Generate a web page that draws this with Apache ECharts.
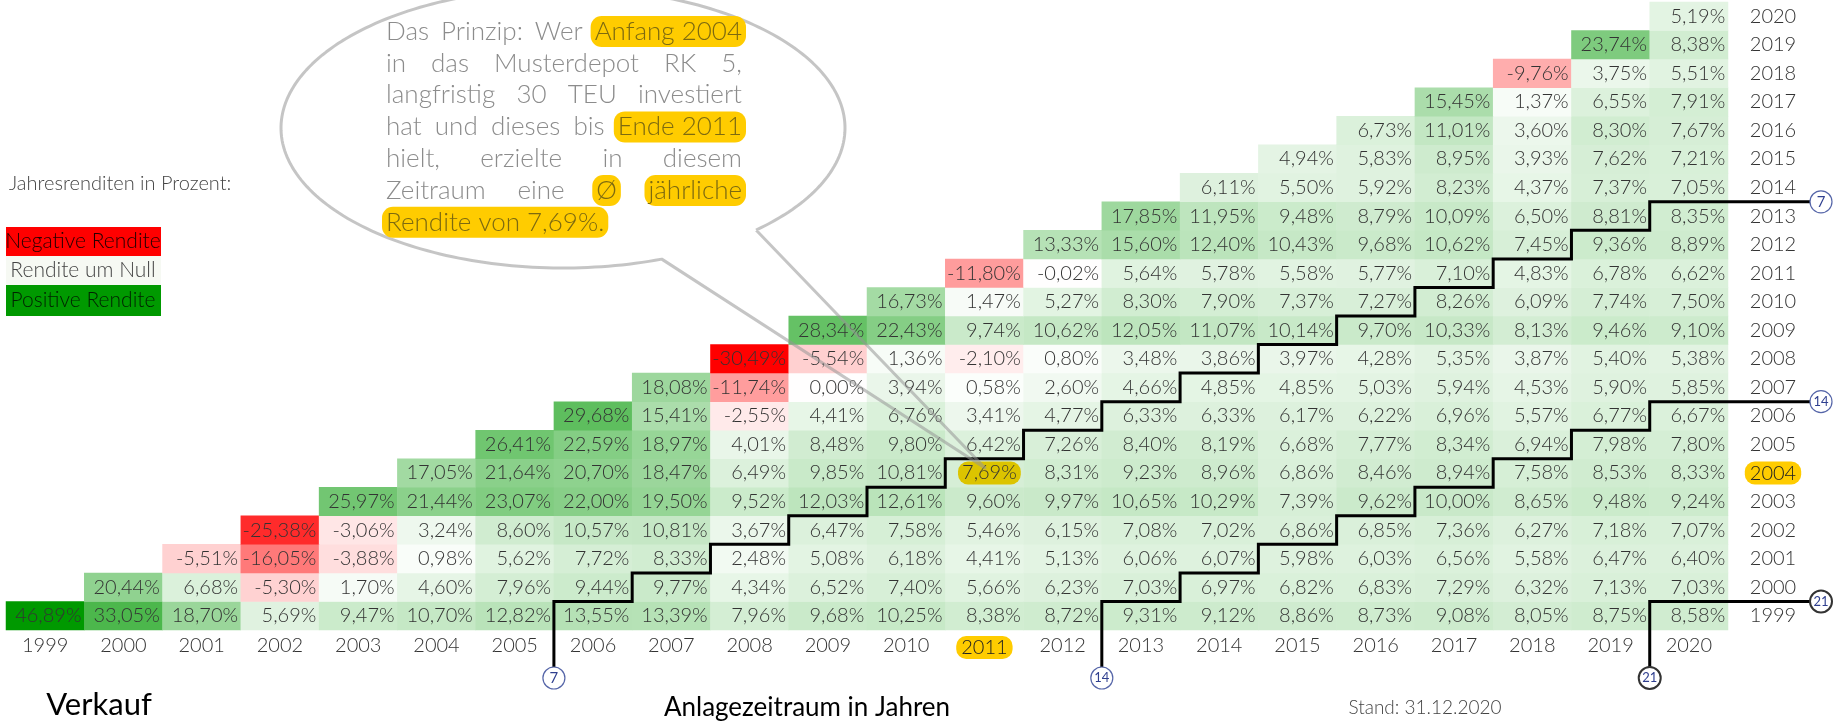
<!DOCTYPE html>
<html><head><meta charset="utf-8">
<script src="https://cdn.jsdelivr.net/npm/echarts@6/dist/echarts.min.js"></script>
<style>html,body{margin:0;padding:0;background:#fff}#c{width:1833px;height:725px}</style>
</head><body><div id="c"></div>
<script>
// ---------- DATA ----------
const years = ['1999','2000','2001','2002','2003','2004','2005','2006','2007','2008','2009','2010','2011','2012','2013','2014','2015','2016','2017','2018','2019','2020'];
// returns by purchase year (row), values for sale years purchase..2020
const ret1999 = [46.89,33.05,18.70,5.69,9.47,10.70,12.82,13.55,13.39,7.96,9.68,10.25,8.38,8.72,9.31,9.12,8.86,8.73,9.08,8.05,8.75,8.58];
const ret2000 = [20.44,6.68,-5.30,1.70,4.60,7.96,9.44,9.77,4.34,6.52,7.40,5.66,6.23,7.03,6.97,6.82,6.83,7.29,6.32,7.13,7.03];
const ret2001 = [-5.51,-16.05,-3.88,0.98,5.62,7.72,8.33,2.48,5.08,6.18,4.41,5.13,6.06,6.07,5.98,6.03,6.56,5.58,6.47,6.40];
const ret2002 = [-25.38,-3.06,3.24,8.60,10.57,10.81,3.67,6.47,7.58,5.46,6.15,7.08,7.02,6.86,6.85,7.36,6.27,7.18,7.07];
const ret2003 = [25.97,21.44,23.07,22.00,19.50,9.52,12.03,12.61,9.60,9.97,10.65,10.29,7.39,9.62,10.00,8.65,9.48,9.24];
const ret2004 = [17.05,21.64,20.70,18.47,6.49,9.85,10.81,7.69,8.31,9.23,8.96,6.86,8.46,8.94,7.58,8.53,8.33];
const ret2005 = [26.41,22.59,18.97,4.01,8.48,9.80,6.42,7.26,8.40,8.19,6.68,7.77,8.34,6.94,7.98,7.80];
const ret2006 = [29.68,15.41,-2.55,4.41,6.76,3.41,4.77,6.33,6.33,6.17,6.22,6.96,5.57,6.77,6.67];
const ret2007 = [18.08,-11.74,0.00,3.94,0.58,2.60,4.66,4.85,4.85,5.03,5.94,4.53,5.90,5.85];
const ret2008 = [-30.49,-5.54,1.36,-2.10,0.80,3.48,3.86,3.97,4.28,5.35,3.87,5.40,5.38];
const ret2009 = [28.34,22.43,9.74,10.62,12.05,11.07,10.14,9.70,10.33,8.13,9.46,9.10];
const ret2010 = [16.73,1.47,5.27,8.30,7.90,7.37,7.27,8.26,6.09,7.74,7.50];
const ret2011 = [-11.80,-0.02,5.64,5.78,5.58,5.77,7.10,4.83,6.78,6.62];
const ret2012 = [13.33,15.60,12.40,10.43,9.68,10.62,7.45,9.36,8.89];
const ret2013 = [17.85,11.95,9.48,8.79,10.09,6.50,8.81,8.35];
const ret2014 = [6.11,5.50,5.92,8.23,4.37,7.37,7.05];
const ret2015 = [4.94,5.83,8.95,3.93,7.62,7.21];
const ret2016 = [6.73,11.01,3.60,8.30,7.67];
const ret2017 = [15.45,1.37,6.55,7.91];
const ret2018 = [-9.76,3.75,5.51];
const ret2019 = [23.74,8.38];
const ret2020 = [5.19];
const holdPeriods = [7, 14, 21];
const highlightBuy = '2004';
const highlightSell = '2011';
const bubbleLines = [
  [['Das',0],['Prinzip:',0],['Wer',0],['Anfang 2004',1]],
  [['in',0],['das',0],['Musterdepot',0],['RK',0],['5,',0]],
  [['langfristig',0],['30',0],['TEU',0],['investiert',0]],
  [['hat',0],['und',0],['dieses',0],['bis',0],['Ende 2011',1]],
  [['hielt,',0],['erzielte',0],['in',0],['diesem',0]],
  [['Zeitraum',0],['eine',0],['Ø',1],['jährliche',1]],
  [['Rendite von 7,69%.',1]]
];
// ---------- BUILD ----------
const rows = [ret1999,ret2000,ret2001,ret2002,ret2003,ret2004,ret2005,ret2006,ret2007,ret2008,ret2009,ret2010,ret2011,ret2012,ret2013,ret2014,ret2015,ret2016,ret2017,ret2018,ret2019,ret2020];
let minRet = Infinity, maxRet = -Infinity;
rows.forEach(r => r.forEach(v => { minRet = Math.min(minRet, v); maxRet = Math.max(maxRet, v); }));
const FONT = 'Lato';
const YEL = '#FFCC00';
const fmt = v => v.toFixed(2).replace('.', ',') + '%';

const data = [];
rows.forEach((row, bi) => row.forEach((v, k) => {
  const si = bi + k;
  const item = { value: [si, bi, v] };
  if (years[bi] === highlightBuy && years[si] === highlightSell) {
    item.label = { backgroundColor: '#DCC400', borderRadius: 10, padding: [2, 4, 1, 4] };
  }
  data.push(item);
}));

function colorAt(v) {
  let c;
  if (v < 0) { const t = Math.min(1, v / minRet); c = [255, 255 - 255 * t, 255 - 255 * t]; }
  else { const t = Math.min(1, v / maxRet); c = [255 - 255 * t, 255 - 102 * t, 255 - 255 * t]; }
  return 'rgb(' + c.map(Math.round).join(',') + ')';
}
const stops = [];
for (let k = 0; k <= 200; k++) stops.push(colorAt(minRet + (maxRet - minRet) * k / 200));

const GL = 6, GT = 2, GW = 1722, GH = 628;

function renderSteps(params, api) {
  const p = api.value(2);
  const c00 = api.coord([0, 0]);
  const w = api.coord([1, 0])[0] - c00[0];
  const h = c00[1] - api.coord([0, 1])[1];
  const L = k => c00[0] - w / 2 + k * w;
  const T = i => c00[1] + h / 2 - (i + 1) * h;
  const bottom = c00[1] + h / 2;
  const rightX = L(22) + 93;
  const botY = bottom + 48;
  const pts = [[L(p), botY]];
  for (let i = 0; i <= 21 - p; i++) {
    pts.push([L(p + i), T(i)]);
    pts.push([i < 21 - p ? L(p + i + 1) : rightX, T(i)]);
  }
  const last = pts[pts.length - 1];
  const bold = p === 21;
  const circ = (x, y) => [
    { type: 'circle', shape: { cx: x, cy: y, r: 11 }, style: { fill: '#fff', stroke: bold ? '#333' : '#5565a8', lineWidth: bold ? 2 : 1.2 } },
    { type: 'text', x: x, y: y, style: { text: String(p), align: 'center', verticalAlign: 'middle', textAlign: 'center', textVerticalAlign: 'middle', fill: '#2f3f8f', fontSize: p > 9 ? 13 : 15, fontFamily: FONT } }
  ];
  return { type: 'group', children: [
    { type: 'polyline', shape: { points: pts }, style: { stroke: '#000', lineWidth: 3, fill: null } },
    ...circ(L(p), botY), ...circ(last[0], last[1])
  ] };
}

// graphics
const gfx = [];
// bubble (ellipse arc + tail to highlighted cell)
(function () {
  const cx = 563, cy = 128, rx = 282, ry = 140;
  const a0 = 46.8, a1 = 69.5 - 360;
  const pts = [];
  for (let k = 0; k <= 240; k++) {
    const a = (a0 + (a1 - a0) * k / 240) * Math.PI / 180;
    pts.push([cx + rx * Math.cos(a), cy + ry * Math.sin(a)]);
  }
  pts.push([985, 468]);
  pts.push(pts[0].slice());
  gfx.push({ type: 'polyline', z: 100, shape: { points: pts }, style: { fill: null, stroke: 'rgba(150,150,150,0.55)', lineWidth: 3, lineJoin: 'round' } });
})();
// bubble text, justified
const ctx = document.createElement('canvas').getContext('2d');
const bFont = { fontSize: 26, fontWeight: 300, fontFamily: FONT };
ctx.font = '300 26px Lato';
const BX0 = 386, BX1 = 742, BY0 = 31.5, BDY = 31.8;
bubbleLines.forEach((line, li) => {
  const ws = line.map(s => ctx.measureText(s[0]).width);
  const tot = ws.reduce((a, b) => a + b, 0);
  const isLast = li === bubbleLines.length - 1;
  const gap = (!isLast && line.length > 1) ? (BX1 - BX0 - tot) / (line.length - 1) : ctx.measureText(' ').width;
  let x = BX0;
  line.forEach((s, i) => {
    const y = BY0 + li * BDY;
    if (s[1]) {
      gfx.push({ type: 'text', z: 101, x: x - 4, y: y, style: Object.assign({ text: s[0], fill: '#7d6a10', backgroundColor: YEL, borderRadius: 11, padding: [3, 4, 2, 4], verticalAlign: 'middle', textVerticalAlign: 'middle' }, bFont) });
    } else {
      gfx.push({ type: 'text', z: 101, x: x, y: y, style: Object.assign({ text: s[0], fill: '#8c8c8c', verticalAlign: 'middle', textVerticalAlign: 'middle' }, bFont) });
    }
    x += ws[i] + gap;
  });
});
// left legend
gfx.push({ type: 'text', x: 9, y: 184, style: { text: 'Jahresrenditen in Prozent:', fill: '#444', verticalAlign: 'middle', textVerticalAlign: 'middle', fontSize: 20, fontWeight: 300, fontFamily: FONT } });
const legendItems = [['Negative Rendite', '#FF0000', '#220000', 227, 29], ['Rendite um Null', '#F6F9F3', '#444', 256, 29], ['Positive Rendite', '#009900', '#002200', 285, 31]];
legendItems.forEach(li => {
  gfx.push({ type: 'rect', shape: { x: 6, y: li[3], width: 155, height: li[4] }, style: { fill: li[1] } });
  gfx.push({ type: 'text', x: 83, y: li[3] + li[4] / 2, style: { text: li[0], fill: li[2], align: 'center', verticalAlign: 'middle', textAlign: 'center', textVerticalAlign: 'middle', fontSize: 21, fontWeight: 300, fontFamily: FONT } });
});
// titles
gfx.push({ type: 'text', x: 99, y: 705, style: { text: 'Verkauf', fill: '#000', align: 'center', verticalAlign: 'middle', textAlign: 'center', textVerticalAlign: 'middle', fontSize: 31, fontFamily: FONT } });
gfx.push({ type: 'text', x: 807, y: 708, style: { text: 'Anlagezeitraum in Jahren', fill: '#000', align: 'center', verticalAlign: 'middle', textAlign: 'center', textVerticalAlign: 'middle', fontSize: 26, fontFamily: FONT } });
gfx.push({ type: 'text', x: 1425, y: 708, style: { text: 'Stand: 31.12.2020', fill: '#444', align: 'center', verticalAlign: 'middle', textAlign: 'center', textVerticalAlign: 'middle', fontSize: 19, fontWeight: 300, fontFamily: FONT } });

const labelBase = { fontFamily: FONT, fontWeight: 300, fontSize: 20, color: '#333' };
const hlRich = { hl: Object.assign({ backgroundColor: YEL, borderRadius: 10, padding: [2, 5, 1, 5] }, labelBase, { color: '#222' }) };

const chart = echarts.init(document.getElementById('c'), null, { renderer: 'canvas' });
chart.setOption({
  animation: false,
  grid: { left: GL, top: GT, width: GW, height: GH },
  xAxis: { type: 'category', data: years, axisLine: { show: false }, axisTick: { show: false }, splitLine: { show: false },
    axisLabel: Object.assign({ margin: 6, interval: 0, formatter: v => v === highlightSell ? '{hl|' + v + '}' : v, rich: hlRich }, labelBase) },
  yAxis: { type: 'category', data: years, position: 'right', axisLine: { show: false }, axisTick: { show: false }, splitLine: { show: false },
    axisLabel: Object.assign({ margin: 45, align: 'center', interval: 0, formatter: v => v === highlightBuy ? '{hl|' + v + '}' : v, rich: hlRich }, labelBase) },
  visualMap: { show: false, type: 'continuous', dimension: 2, seriesIndex: 0, min: minRet, max: maxRet, inRange: { color: stops } },
  series: [
    { type: 'heatmap', data: data, itemStyle: { borderWidth: 0 }, emphasis: { disabled: true },
      label: Object.assign({ show: true, position: 'insideRight', distance: 3, formatter: p => fmt(p.value[2]) }, labelBase) },
    { type: 'custom', data: holdPeriods.map(p => [0, 0, p]), encode: { x: 0, y: 1 }, renderItem: renderSteps, z: 5, clip: false, silent: true }
  ],
  graphic: gfx
});
</script></body></html>
